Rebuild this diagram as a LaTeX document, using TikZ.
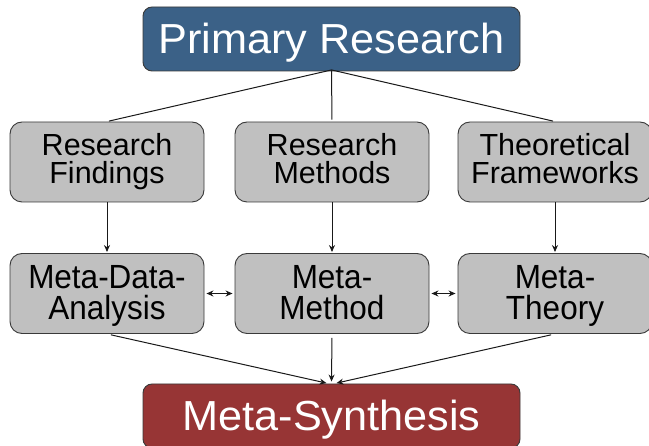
\documentclass[tikz,border=0pt]{standalone}
\usepackage{fontspec}
\setmainfont{Liberation Sans}
\newfontfamily\fbig{Liberation Sans}[FakeStretch=1.03]
\newfontfamily\fthree{Liberation Sans}[FakeStretch=0.94]
\usetikzlibrary{arrows.meta}
\definecolor{prblue}{HTML}{3B6187}
\definecolor{msred}{HTML}{973535}
\definecolor{boxgray}{HTML}{C0C0C0}
\definecolor{edgegray}{HTML}{3A3A3A}
\tikzset{
  bigbox/.style={draw=edgegray, line width=0.9pt, rounded corners=9pt,
    minimum width=377pt, minimum height=64pt, inner sep=0pt, text=white,
    text height=30pt, text depth=0pt,
    font=\fbig\fontsize{42}{44}\selectfont},
  graybox/.style={draw=edgegray, line width=0.9pt, rounded corners=12pt, fill=boxgray,
    minimum width=194pt, minimum height=80pt, inner sep=0pt, align=center},
  rowtwo/.style={graybox, text height=44pt, text depth=0pt,
    font=\fontsize{30.5}{28.5}\selectfont},
  rowthree/.style={graybox, text height=53pt, text depth=0pt,
    font=\fthree\fontsize{33.5}{31}\selectfont},
  conn/.style={draw=black!90, line width=1pt},
  arr/.style={conn, -{Stealth[length=7pt, width=6pt]}},
  darr/.style={conn, {Stealth[length=7pt, width=6pt]}-{Stealth[length=7pt, width=6pt]}}
}
\begin{document}
\begin{tikzpicture}[x=1pt, y=-1pt]
\useasboundingbox (0,0) rectangle (649,446);
\node[bigbox, fill=prblue] (pr) at (331.5,39) {Primary Research};
\node[rowtwo] (rf) at (107,162) {Research\\Findings};
\node[rowtwo] (rm) at (332,162) {Research\\Methods};
\node[rowtwo] (tf) at (555,162) {Theoretical\\Frameworks};
\node[rowthree] (mda) at (107,293.5) {Meta-Data-\\Analysis};
\node[rowthree] (mm) at (332,293.5) {Meta-\\Method};
\node[rowthree] (mt) at (555,293.5) {Meta-\\Theory};
\node[bigbox, fill=msred] (ms) at (331.5,416) {Meta-Synthesis};
\coordinate (apex) at ([yshift=1.5pt]pr.south);
\draw[conn, shorten >=2pt] (apex) -- (rf.north);
\draw[conn, shorten >=2pt] (apex) -- (rm.north);
\draw[conn, shorten >=2pt] (apex) -- (tf.north);
\draw[arr, shorten >=1pt] (rf) -- (mda);
\draw[arr, shorten >=1pt] (rm) -- (mm);
\draw[arr, shorten >=1pt] (tf) -- (mt);
\draw[darr, shorten >=2pt, shorten <=2pt] (mda) -- (mm);
\draw[darr, shorten >=2pt, shorten <=2pt] (mm) -- (mt);
\draw[arr, shorten <=4pt, shorten >=2pt] (mda.south) -- ([xshift=-3pt]ms.north);
\draw[arr, shorten <=4pt, shorten >=2pt] (mm.south) -- (ms.north);
\draw[arr, shorten <=4pt, shorten >=2pt] (mt.south) -- ([xshift=3pt]ms.north);
\end{tikzpicture}
\end{document}
